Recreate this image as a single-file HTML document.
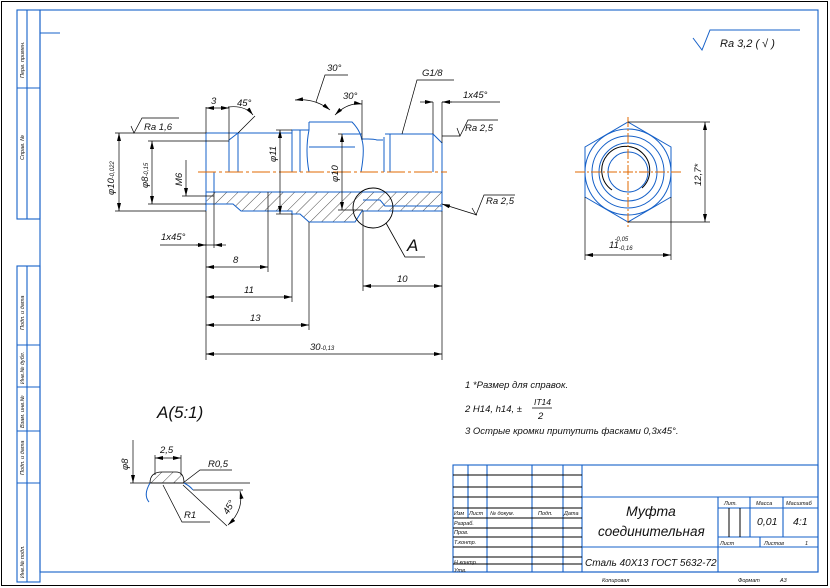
<!DOCTYPE html>
<html><head><meta charset="utf-8"><style>
html,body{margin:0;padding:0;background:#fff;}
svg{display:block;}
text{font-family:"Liberation Sans","DejaVu Sans",sans-serif;font-style:italic;fill:#111;}
</style></head><body>
<svg width="830" height="588" viewBox="0 0 830 588" xmlns="http://www.w3.org/2000/svg">
<defs>
<pattern id="h" width="8" height="8" patternUnits="userSpaceOnUse" patternTransform="rotate(45)">
<line x1="0" y1="0" x2="0" y2="8" stroke="#000" stroke-width="0.7"/></pattern>
<marker id="a" markerWidth="8" markerHeight="4" refX="8" refY="2" orient="auto-start-reverse" markerUnits="userSpaceOnUse"><path d="M0,0 L8,2 L0,4z" fill="#000"/></marker>
</defs>
<rect x="1.5" y="1.5" width="826" height="584" fill="none" stroke="#000" stroke-width="1"/>
<g stroke="#1560c8" stroke-width="1.1" fill="none">
<rect x="40" y="10" width="778" height="562"/>
<line x1="40" y1="33" x2="60" y2="33"/>
<rect x="17" y="10" width="23" height="209"/><line x1="27" y1="10" x2="27" y2="219"/><line x1="17" y1="88" x2="40" y2="88"/>
<rect x="17" y="266" width="23" height="316"/><line x1="27" y1="266" x2="27" y2="582"/>
<line x1="17" y1="345" x2="40" y2="345"/><line x1="17" y1="387" x2="40" y2="387"/><line x1="17" y1="431" x2="40" y2="431"/><line x1="17" y1="483" x2="40" y2="483"/>
</g>
<g font-size="5.5">
<text transform="translate(24,78) rotate(-90)">Перв. примен.</text>
<text transform="translate(24,160) rotate(-90)">Справ. №</text>
<text transform="translate(24,330) rotate(-90)">Подп. и дата</text>
<text transform="translate(24,384) rotate(-90)">Инв.№ дубл.</text>
<text transform="translate(24,428) rotate(-90)">Взам. инв.№</text>
<text transform="translate(24,475) rotate(-90)">Подп. и дата</text>
<text transform="translate(24,578) rotate(-90)">Инв.№ подл.</text>
</g>
<path d="M693,38 L702,50 L710,30 L800,30" stroke="#1560c8" fill="none" stroke-width="1"/>
<text x="720" y="47" font-size="11">Ra 3,2 ( √ )</text>

<g stroke="#1560c8" stroke-width="1" fill="none">
<path d="M206,133 L292,133 L292,130 L309,130"/>
<path d="M206,133 L206,211"/>
<path d="M229,140 L229,172 M238,133 L238,172 M292,130 L292,172 M300,130 L300,172"/>
<path d="M229,140 L238,133"/>
<path d="M309,130 Q305,150 309,172"/>
<path d="M309,122 L352,122 Q360,130 362,140 Q365,150 361,172"/>
<path d="M309,122 L309,130 M309,147 L355,147"/>
<path d="M362,139 L368,139 Q374,139 377,140 L383,140 M384,137 L384,172"/>
<path d="M385,134 L433,134 L442,143 L442,211 M390,134 L390,172 M433,134 L433,172"/>
<path d="M342,134 L362,134"/>
<path d="M214,172 L214,192 L442,192"/>
</g>
<path d="M206,192 L206,204 L233,204 L241,211 L292,211 L292,214 L300,214 L309,222 L355,222 L362,211 L442,211 L442,192 Z" fill="url(#h)" stroke="#1560c8" stroke-width="1"/>
<path d="M363,200 L380,200 L385,206 L442,206" stroke="#1560c8" fill="none"/>
<line x1="198" y1="172" x2="447" y2="172" stroke="#e06a00" stroke-width="1" stroke-dasharray="18,3,3,3"/>
<circle cx="373" cy="208" r="20" fill="none" stroke="#000" stroke-width="0.9"/>
<path d="M386,223 L405,257 L425,257" stroke="#000" fill="none" stroke-width="0.8"/>
<text x="407" y="251" font-size="17" font-style="normal">A</text>

<g stroke="#000" stroke-width="0.7" fill="none">
<line x1="206" y1="211" x2="206" y2="360"/>
<line x1="442" y1="211" x2="442" y2="360"/>
<line x1="268" y1="192" x2="268" y2="272"/>
<line x1="292" y1="214" x2="292" y2="302"/>
<line x1="309" y1="222" x2="309" y2="330"/>
<line x1="363" y1="211" x2="363" y2="291"/>
<line x1="206" y1="267" x2="268" y2="267" marker-start="url(#a)" marker-end="url(#a)"/>
<line x1="206" y1="297" x2="292" y2="297" marker-start="url(#a)" marker-end="url(#a)"/>
<line x1="206" y1="325" x2="309" y2="325" marker-start="url(#a)" marker-end="url(#a)"/>
<line x1="206" y1="354" x2="442" y2="354" marker-start="url(#a)" marker-end="url(#a)"/>
<line x1="363" y1="286" x2="442" y2="286" marker-start="url(#a)" marker-end="url(#a)"/>
<line x1="115" y1="133" x2="206" y2="133"/><line x1="115" y1="211" x2="206" y2="211"/>
<line x1="119" y1="133" x2="119" y2="211" marker-start="url(#a)" marker-end="url(#a)"/>
<line x1="148" y1="141" x2="229" y2="141"/><line x1="148" y1="204" x2="206" y2="204"/>
<line x1="152" y1="141" x2="152" y2="204" marker-start="url(#a)" marker-end="url(#a)"/>
<line x1="182" y1="196" x2="214" y2="196"/>
<line x1="186" y1="160" x2="186" y2="196" marker-end="url(#a)"/>
<line x1="276" y1="130" x2="292" y2="130"/><line x1="276" y1="214" x2="292" y2="214"/>
<line x1="280" y1="130" x2="280" y2="214" marker-start="url(#a)" marker-end="url(#a)"/>
<line x1="338" y1="134" x2="342" y2="134"/><line x1="338" y1="210" x2="363" y2="210"/>
<line x1="342" y1="134" x2="342" y2="210" marker-start="url(#a)" marker-end="url(#a)"/>
<line x1="206" y1="107" x2="206" y2="133"/><line x1="229" y1="107" x2="229" y2="140"/>
<line x1="206" y1="108" x2="229" y2="108" marker-start="url(#a)" marker-end="url(#a)"/>
<path d="M228,107 Q245,105 253,115" marker-end="url(#a)"/><line x1="238" y1="133" x2="255" y2="116"/>
<line x1="160" y1="245" x2="214" y2="245"/><line x1="214" y1="192" x2="214" y2="248"/>
<line x1="196" y1="245" x2="206" y2="245" marker-end="url(#a)"/><line x1="226" y1="245" x2="214" y2="245" marker-end="url(#a)"/>
<path d="M295,100 Q315,98 330,110" marker-start="url(#a)" marker-end="url(#a)"/>
<path d="M316,102 L325,75 L348,75"/>
<path d="M335,115 Q348,102 362,104" marker-start="url(#a)" marker-end="url(#a)"/>
<line x1="362" y1="100" x2="362" y2="140"/>
<path d="M402,134 L417,80 L454,80"/>
<line x1="433" y1="102" x2="433" y2="134"/><line x1="442" y1="102" x2="442" y2="143"/>
<line x1="420" y1="102" x2="433" y2="102" marker-end="url(#a)"/><line x1="452" y1="102" x2="442" y2="102" marker-end="url(#a)"/><line x1="442" y1="102" x2="500" y2="102"/>
<line x1="442" y1="136" x2="460" y2="136"/>
<line x1="477" y1="215" x2="442" y2="204" marker-end="url(#a)"/>
<path d="M131,126 L134,133 L142,118 L179,118"/>
<path d="M457,128 L460,136 L468,120 L498,120"/>
<path d="M472,208 L476,215 L484,195 L515,195"/>
</g>
<g font-size="9.5">
<text x="144" y="130">Ra 1,6</text>
<text x="465" y="131">Ra 2,5</text>
<text x="486" y="204">Ra 2,5</text>
<text x="211" y="104">3</text>
<text x="237" y="106">45°</text>
<text x="327" y="71">30°</text>
<text x="343" y="99">30°</text>
<text x="422" y="76">G1/8</text>
<text x="463" y="98">1x45°</text>
<text x="161" y="240">1x45°</text>
<text x="233" y="263">8</text>
<text x="244" y="293">11</text>
<text x="250" y="321">13</text>
<text x="310" y="350">30<tspan font-size="6">-0,13</tspan></text>
<text x="397" y="282">10</text>
<text transform="translate(114,195) rotate(-90)">φ10<tspan font-size="6">-0,022</tspan></text>
<text transform="translate(148,188) rotate(-90)">φ8<tspan font-size="6">-0,15</tspan></text>
<text transform="translate(182,186) rotate(-90)">M6</text>
<text transform="translate(276,162) rotate(-90)">φ11</text>
<text transform="translate(338,182) rotate(-90)">φ10</text>
</g>

<g fill="none" stroke="#1560c8" stroke-width="1">
<polygon points="628,122 671,147 671,197 628,222 585,197 585,147"/>
<circle cx="628" cy="172" r="43"/><circle cx="628" cy="172" r="36"/><circle cx="628" cy="172" r="29"/><circle cx="628" cy="172" r="20"/>
</g>
<path d="M642,188 A24,24 0 1 0 612,190" stroke="#000" fill="none"/>
<g stroke="#e06a00" stroke-width="1" stroke-dasharray="10,2,2,2">
<line x1="628" y1="117" x2="628" y2="227"/><line x1="575" y1="172" x2="681" y2="172"/>
</g>
<g stroke="#000" stroke-width="0.7" fill="none">
<line x1="628" y1="122" x2="710" y2="122"/><line x1="628" y1="222" x2="710" y2="222"/>
<line x1="705" y1="122" x2="705" y2="222" marker-start="url(#a)" marker-end="url(#a)"/>
<line x1="585" y1="197" x2="585" y2="260"/><line x1="671" y1="197" x2="671" y2="260"/>
<line x1="585" y1="255" x2="671" y2="255" marker-start="url(#a)" marker-end="url(#a)"/>
</g>
<text transform="translate(701,186) rotate(-90)" font-size="9.5">12,7*</text>
<text x="609" y="248" font-size="9.5">11<tspan font-size="6" dy="2">-0,16</tspan><tspan font-size="6" dx="-18" dy="-9">-0,05</tspan></text>

<text x="157" y="418" font-size="17" font-style="normal">A(5:1)</text>
<g stroke="#000" stroke-width="0.7" fill="none">
<line x1="133" y1="440" x2="133" y2="483" marker-end="url(#a)"/>
<line x1="130" y1="483" x2="250" y2="483"/>
<line x1="155" y1="455" x2="155" y2="475"/><line x1="181" y1="455" x2="181" y2="475"/>
<line x1="155" y1="458" x2="181" y2="458" marker-start="url(#a)" marker-end="url(#a)"/>
<path d="M232,470 L200,470 L183,483"/>
<path d="M163,485 L182,522 L210,522"/>
<path d="M183,485 L227,526"/>
<path d="M240,491 Q244,510 228,525" marker-start="url(#a)" marker-end="url(#a)"/>
<path d="M193,490 L243,490"/>
</g>
<path d="M150,483 Q150,472 162,472 L176,472 Q184,472 184,483 Z" fill="url(#h)" stroke="#000" stroke-width="0.8"/>
<path d="M150,483 Q143,495 149,502 M184,483 Q190,486 193,490" stroke="#1560c8" fill="none"/>
<g font-size="9.5">
<text x="160" y="453">2,5</text>
<text x="208" y="467">R0,5</text>
<text x="184" y="518">R1</text>
<text transform="translate(128,470) rotate(-90)">φ8</text>
<text transform="translate(228,515) rotate(-60)">45°</text>
</g>

<g font-size="9.5">
<text x="465" y="388">1 *Размер для справок.</text>
<text x="465" y="412">2 H14, h14, ±</text>
<text x="534" y="405" font-size="8.5">IT14</text>
<line x1="532" y1="408" x2="552" y2="408" stroke="#000" stroke-width="0.7"/>
<text x="538" y="419">2</text>
<text x="465" y="434">3 Острые кромки притупить фасками 0,3x45°.</text>
</g>

<g stroke="#1560c8" stroke-width="1.1" fill="none">
<rect x="453" y="465" width="365" height="107"/>
<line x1="582" y1="465" x2="582" y2="572"/>
<line x1="468" y1="465" x2="468" y2="518"/>
<line x1="487" y1="465" x2="487" y2="572"/>
<line x1="532" y1="465" x2="532" y2="572"/>
<line x1="563" y1="465" x2="563" y2="572"/>
<line x1="582" y1="497" x2="818" y2="497"/>
<line x1="582" y1="547" x2="818" y2="547"/>
<line x1="718" y1="497" x2="718" y2="572"/>
<line x1="750" y1="497" x2="750" y2="537"/>
<line x1="783" y1="497" x2="783" y2="537"/>
<line x1="718" y1="508" x2="818" y2="508"/>
<line x1="718" y1="537" x2="818" y2="537"/>
<line x1="760" y1="537" x2="760" y2="547"/>
</g>
<g stroke="#000" stroke-width="1">
<line x1="453" y1="475" x2="582" y2="475"/><line x1="453" y1="487" x2="582" y2="487"/><line x1="453" y1="497" x2="582" y2="497"/>
<line x1="453" y1="508" x2="582" y2="508"/><line x1="453" y1="518" x2="582" y2="518"/><line x1="453" y1="528" x2="582" y2="528"/>
<line x1="453" y1="537" x2="582" y2="537"/><line x1="453" y1="547" x2="582" y2="547"/><line x1="453" y1="557" x2="582" y2="557"/><line x1="453" y1="564" x2="582" y2="564"/>
<line x1="729" y1="508" x2="729" y2="537"/><line x1="740" y1="508" x2="740" y2="537"/>
</g>
<g font-size="5.5">
<text x="454" y="515">Изм</text><text x="469" y="515">Лист</text><text x="490" y="515">№ докум.</text><text x="538" y="515">Подп.</text><text x="564" y="515">Дата</text>
<text x="454" y="525">Разраб.</text><text x="454" y="534">Пров.</text><text x="454" y="544">Т.контр.</text>
<text x="454" y="564">Н.контр.</text><text x="454" y="572">Утв.</text>
<text x="724" y="505">Лит.</text><text x="756" y="505">Масса</text><text x="786" y="505">Масштаб</text>
<text x="720" y="545">Лист</text><text x="764" y="545">Листов</text><text x="805" y="545">1</text>
<text x="602" y="582">Копировал</text><text x="738" y="582">Формат</text><text x="780" y="582">А3</text>
</g>
<text x="626" y="516" font-size="14">Муфта</text>
<text x="598" y="536" font-size="13.5">соединительная</text>
<text x="585" y="566" font-size="10">Сталь 40Х13 ГОСТ 5632-72</text>
<text x="757" y="525" font-size="10.5">0,01</text>
<text x="793" y="525" font-size="10.5">4:1</text>
</svg>
</body></html>
